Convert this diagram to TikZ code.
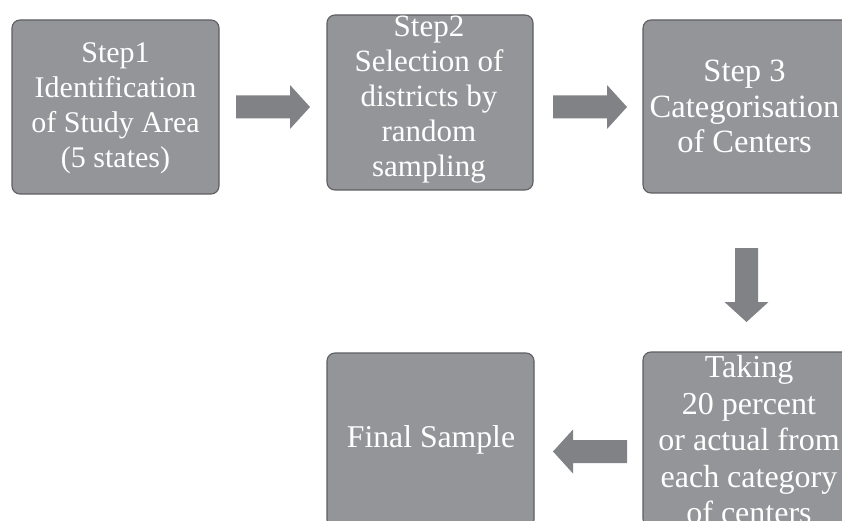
\documentclass[tikz,border=0pt]{standalone}
\usepackage{fontspec}
\setmainfont{Liberation Serif}
\definecolor{boxgrey}{HTML}{939598}
\definecolor{edgegrey}{HTML}{5E5F61}
\definecolor{arrowgrey}{HTML}{808285}
\tikzset{
  stepbox/.style={draw=edgegrey, line width=1.1pt, fill=boxgrey, rounded corners=8pt,
                  minimum width=207pt, minimum height=175pt, inner sep=0pt},
  steptext/.style={text=white, align=center, inner sep=0pt},
  blockarrow/.pic={\fill[arrowgrey] (0,-11.5) -- (54,-11.5) -- (54,-22) -- (74,0)
                   -- (54,22) -- (54,11.5) -- (0,11.5) -- cycle;}
}
\begin{document}
\begin{tikzpicture}[x=1pt,y=-1pt]
\useasboundingbox (0,0) rectangle (842,521);
\clip (0,0) rectangle (842,521);
\fill[white] (0,0) rectangle (842,521);

% step boxes
\node[stepbox, minimum height=174pt] (b1) at (115.5,107) {};
\node[stepbox, minimum width=206pt] (b2) at (430,102.5) {};
\node[stepbox, minimum height=173pt] (b3) at (746.5,106.5) {};
\node[stepbox] (b4) at (746.5,439.5) {};
\node[stepbox] (b5) at (430.5,440.5) {};

% box texts
\node[steptext, font=\fontsize{30pt}{35pt}\selectfont] (t1) at (115.5,108)
  {Step1\\Identification\\of Study Area\\(5 states)};
\node[steptext, font=\fontsize{31pt}{35pt}\selectfont] (t2) at (429,100)
  {Step2\\Selection of\\districts by\\random\\sampling};
\node[steptext, font=\fontsize{32.5pt}{35.5pt}\selectfont] (t3) at (744.5,106.5)
  {Step 3\\Categorisation\\of Centers};
\node[steptext, font=\fontsize{32pt}{36.5pt}\selectfont] (t4) at (749,440)
  {Taking\\20 percent\\or actual from\\each category\\of centers};
\node[steptext, font=\fontsize{31.7pt}{36pt}\selectfont] (t5) at (431,439.6)
  {Final Sample};

% block arrows between the steps
\pic (a1) at (236,107) {blockarrow};
\pic (a2) at (553,107) {blockarrow};
\pic[rotate=-90] (a3) at (746.5,248) {blockarrow};
\pic[rotate=180] (a4) at (627,451.5) {blockarrow};
\end{tikzpicture}
\end{document}
